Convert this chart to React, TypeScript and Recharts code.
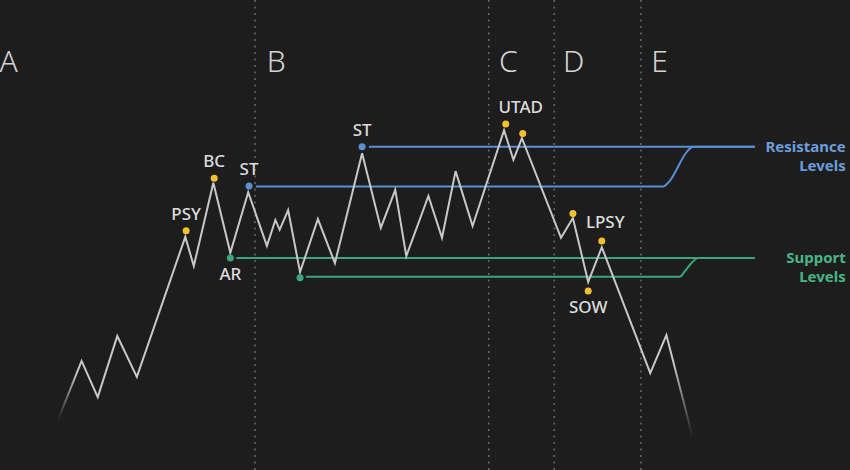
import { ComposedChart, Line, Scatter, XAxis, YAxis, ReferenceLine } from "recharts";

// time runs 0..100 across the schematic, price 0..100 bottom to top
const pricePath = [
  { t: 6.8, p: 10.6 }, { t: 9.6, p: 23.2 }, { t: 11.5, p: 15.5 }, { t: 13.8, p: 28.5 },
  { t: 16.1, p: 19.8 }, { t: 21.8, p: 49.6 }, { t: 22.8, p: 43.4 }, { t: 25.1, p: 61.1 },
  { t: 27.1, p: 46.2 }, { t: 29.2, p: 59.1 }, { t: 31.4, p: 47.7 }, { t: 32.4, p: 53.2 },
  { t: 32.9, p: 51.1 }, { t: 33.9, p: 55.3 }, { t: 35.3, p: 42.1 }, { t: 37.4, p: 53.4 },
  { t: 39.4, p: 44.0 }, { t: 42.6, p: 67.4 }, { t: 44.8, p: 51.5 }, { t: 46.5, p: 59.6 },
  { t: 47.8, p: 45.5 }, { t: 50.4, p: 58.3 }, { t: 52.0, p: 49.4 }, { t: 53.6, p: 63.6 },
  { t: 55.6, p: 51.9 }, { t: 59.3, p: 72.3 }, { t: 60.4, p: 66.0 }, { t: 61.4, p: 70.6 },
  { t: 66.0, p: 49.4 }, { t: 67.4, p: 53.6 }, { t: 69.2, p: 40.0 }, { t: 70.8, p: 47.4 },
  { t: 76.5, p: 20.6 }, { t: 78.4, p: 28.7 }, { t: 81.5, p: 7.0 },
];

const resistanceUpper = [{ t: 43.4, p: 68.8 }, { t: 88.8, p: 68.8 }];
const resistanceLower = [
  { t: 30.1, p: 60.3 }, { t: 78.0, p: 60.3 }, { t: 78.6, p: 61.1 },
  { t: 80.9, p: 67.9 }, { t: 81.5, p: 68.8 }, { t: 88.8, p: 68.8 },
];
const supportUpper = [{ t: 27.8, p: 45.1 }, { t: 88.8, p: 45.1 }];
const supportLower = [
  { t: 36.0, p: 41.1 }, { t: 80.0, p: 41.1 }, { t: 80.4, p: 41.9 },
  { t: 81.5, p: 44.3 }, { t: 82.1, p: 45.1 }, { t: 88.8, p: 45.1 },
];

const events = [
  { label: "PSY", t: 21.9, p: 50.9, kind: "event", place: "top" },
  { label: "BC", t: 25.2, p: 62.1, kind: "event", place: "top" },
  { label: "AR", t: 27.1, p: 45.1, kind: "support", place: "bottom" },
  { label: "ST", t: 29.3, p: 60.4, kind: "resistance", place: "top" },
  { label: "", t: 35.3, p: 40.9, kind: "support", place: "top" },
  { label: "ST", t: 42.6, p: 68.8, kind: "resistance", place: "top" },
  { label: "UTAD", t: 59.5, p: 73.6, kind: "event", place: "topRight" },
  { label: "", t: 61.5, p: 71.6, kind: "event", place: "top" },
  { label: "LPSY", t: 67.4, p: 54.6, kind: "event", place: "right" },
  { label: "SOW", t: 69.2, p: 38.1, kind: "event", place: "bottom" },
  { label: "", t: 70.8, p: 48.7, kind: "event", place: "top" },
];

const phaseBounds = [30.0, 57.5, 65.2, 75.4];
const phaseLetters = [
  { name: "A", t: 1.0, p: 87.0 },
  { name: "B", t: 32.5, p: 87.0 },
  { name: "C", t: 59.8, p: 87.0 },
  { name: "D", t: 67.5, p: 87.0 },
  { name: "E", t: 77.6, p: 87.0 },
];

const levelLabels = [
  { lines: ["Resistance", "Levels"], t: 99.5, p: 68.8, kind: "resistance" },
  { lines: ["Support", "Levels"], t: 99.5, p: 45.1, kind: "support" },
];

const colors: Record<string, string> = {
  event: "#f2c12e",
  resistance: "#5b8fd4",
  support: "#3ba57b",
};
const labelColors: Record<string, string> = {
  resistance: "#6b9ddc",
  support: "#47b586",
};

const FONT = "'Noto Sans', sans-serif";

const EventDot = (props: any) => {
  const { cx, cy, payload } = props;
  let tx = cx;
  let ty = cy - 17;
  let anchor: "middle" | "start" = "middle";
  if (payload.place === "topRight") tx = cx + 15;
  if (payload.place === "bottom") ty = cy + 16;
  if (payload.place === "right") {
    tx = cx + 13;
    ty = cy + 9;
    anchor = "start";
  }
  return (
    <g>
      <circle cx={cx} cy={cy} r={3.5} fill={colors[payload.kind]} />
      {payload.label && (
        <text
          x={tx}
          y={ty + 6.1}
          textAnchor={anchor}
          fill="#dcdcdc"
          fontSize={17}
          fontWeight={500}
          fontFamily={FONT}
        >
          {payload.label}
        </text>
      )}
    </g>
  );
};

const PhaseLetter = (props: any) => {
  const { cx, cy, payload } = props;
  return (
    <text
      x={cx}
      y={cy + 10.7}
      textAnchor="middle"
      fill="#d4d4d4"
      fontSize={30}
      fontWeight={300}
      fontFamily={FONT}
    >
      {payload.name}
    </text>
  );
};

const LevelLabel = (props: any) => {
  const { cx, cy, payload } = props;
  return (
    <text textAnchor="end" fill={labelColors[payload.kind]} fontSize={15} fontWeight={700} fontFamily={FONT}>
      {payload.lines.map((s: string, i: number) => (
        <tspan key={i} x={cx} y={cy + 5.3 + i * 19}>
          {s}
        </tspan>
      ))}
    </text>
  );
};

const levelLine = (data: { t: number; p: number }[], color: string, key: string) => (
  <Line
    key={key}
    data={data}
    dataKey="p"
    type="monotoneX"
    stroke={color}
    strokeWidth={2}
    dot={false}
    activeDot={false}
    isAnimationActive={false}
  />
);

export default function App() {
  return (
    <div style={{ position: "fixed", left: 0, top: 0, width: 850, height: 470, background: "#1d1d1d" }}>
      <ComposedChart width={850} height={470} margin={{ top: 0, right: 0, bottom: 0, left: 0 }}>
        <defs>
          <linearGradient id="priceFade" x1="0" y1="0" x2="1" y2="0">
            <stop offset="0" stopColor="#c8c8c8" stopOpacity={0} />
            <stop offset="0.03" stopColor="#c8c8c8" stopOpacity={1} />
            <stop offset="0.97" stopColor="#c8c8c8" stopOpacity={1} />
            <stop offset="1" stopColor="#c8c8c8" stopOpacity={0} />
          </linearGradient>
        </defs>
        <XAxis type="number" dataKey="t" domain={[0, 100]} allowDataOverflow hide />
        <YAxis type="number" dataKey="p" domain={[0, 100]} allowDataOverflow hide />
        {phaseBounds.map((t) => (
          <ReferenceLine key={t} x={t} stroke="#686868" strokeWidth={1.5} strokeDasharray="2 4.5" />
        ))}
        {levelLine(resistanceUpper, colors.resistance, "ru")}
        {levelLine(resistanceLower, colors.resistance, "rl")}
        {levelLine(supportUpper, colors.support, "su")}
        {levelLine(supportLower, colors.support, "sl")}
        <Line
          data={pricePath}
          dataKey="p"
          type="linear"
          stroke="url(#priceFade)"
          strokeWidth={2}
          dot={false}
          activeDot={false}
          isAnimationActive={false}
        />
        <Scatter data={events} shape={EventDot} isAnimationActive={false} />
        <Scatter data={phaseLetters} shape={PhaseLetter} isAnimationActive={false} />
        <Scatter data={levelLabels} shape={LevelLabel} isAnimationActive={false} />
      </ComposedChart>
    </div>
  );
}
